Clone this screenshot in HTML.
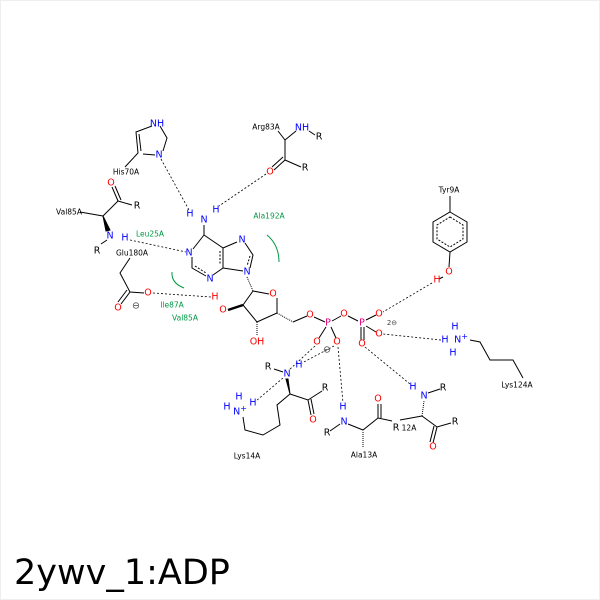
<!DOCTYPE html>
<html><head><style>
html,body{margin:0;padding:0;background:#fff;}
svg{display:block;}
text{font-family:"DejaVu Sans","Liberation Sans",sans-serif;}
.a{font-size:9.5px;text-anchor:middle;dominant-baseline:central;}
.l{font-size:7.5px;text-anchor:middle;dominant-baseline:central;fill:#000;}
.g{font-size:7.5px;text-anchor:middle;dominant-baseline:central;fill:#009944;}
.b{fill:#00f}.r{fill:#f00}.p{fill:#e0007f}.k{fill:#000}
</style></head><body>
<svg width="600" height="600" viewBox="0 0 600 600" xmlns="http://www.w3.org/2000/svg">
<rect x="0.5" y="0.5" width="599" height="599" fill="#fff" stroke="#eee"/>
<g stroke="#000" stroke-width="1" fill="none">
<!-- His70 -->
<polyline points="125,167 138,153 136,132 152,126"/>
<line x1="141" y1="151" x2="139" y2="134"/>
<polyline points="160,126 167,138 163,151"/>
<line x1="143" y1="154" x2="155" y2="155"/>
<!-- Arg83 -->
<line x1="285" y1="140" x2="296" y2="131"/>
<line x1="309" y1="131" x2="315" y2="135"/>
<line x1="285" y1="140" x2="285" y2="160"/>
<line x1="285" y1="160" x2="301" y2="167"/>
<line x1="285" y1="160" x2="274" y2="170"/>
<line x1="283" y1="157" x2="272" y2="167"/>
<line x1="285" y1="140" x2="278" y2="131"/>
<!-- Val85 top -->
<line x1="80" y1="212" x2="103" y2="216"/>
<line x1="103" y1="216" x2="118" y2="201"/>
<line x1="118" y1="201" x2="112" y2="187"/>
<line x1="121" y1="200" x2="115" y2="186"/>
<line x1="118" y1="201" x2="132" y2="205"/>
<polygon points="103,216 106,231 110,230" fill="#000"/>
<line x1="101" y1="244" x2="107" y2="240"/>
<!-- Glu180 -->
<polyline points="130,258 120,273 130,292 144,293"/>
<line x1="130" y1="292" x2="121" y2="304"/>
<line x1="127" y1="290" x2="118" y2="302"/>
<!-- adenine -->
<line x1="204" y1="225" x2="204" y2="235"/>
<polyline points="204,235 223,248 223,268 213,275"/>
<line x1="204" y1="235" x2="193" y2="249"/>
<polyline points="192,257 192,268 206,276"/>
<line x1="223" y1="248" x2="237" y2="242"/>
<polyline points="245,243 253,255 250,268"/>
<line x1="223" y1="268" x2="243" y2="271"/>
<line x1="220" y1="251" x2="220" y2="265" stroke-dasharray="2,1.5"/>
<line x1="195" y1="266" x2="206" y2="273" stroke-dasharray="2,1.5"/>
<line x1="250" y1="256" x2="247" y2="266" stroke-dasharray="2,1.5"/>
<!-- ribose -->
<line x1="247" y1="277" x2="253" y2="291" stroke-dasharray="1,1"/>
<polyline points="253,291 269,294"/>
<polyline points="277,298 277,313 257,322 243,305 253,291"/>
<line x1="243" y1="305" x2="228" y2="310" stroke-width="2.5"/>
<line x1="257" y1="322" x2="257" y2="336" stroke-dasharray="1,1"/>
<line x1="277" y1="313" x2="293" y2="322" stroke-dasharray="1,1"/>
<polyline points="293,322 307,316"/>
<line x1="314" y1="317" x2="325" y2="322"/>
<line x1="332" y1="321" x2="341" y2="316"/>
<line x1="348" y1="316" x2="358" y2="321"/>
<line x1="366" y1="320" x2="376" y2="315"/>
<line x1="366" y1="326" x2="376" y2="332"/>
<line x1="361" y1="327" x2="361" y2="340"/><line x1="364" y1="327" x2="364" y2="340"/>
<line x1="326" y1="327" x2="319" y2="338"/>
<line x1="331" y1="327" x2="336" y2="338"/>
<!-- Lys14 -->
<line x1="274" y1="369" x2="283" y2="372"/>
<polygon points="290,394 288,379 286,379" fill="#000"/>
<polyline points="290,394 308,400 322,391"/>
<line x1="308" y1="400" x2="311" y2="415"/><line x1="311" y1="399" x2="314" y2="414"/>
<polyline points="290,394 277,405 280,425 263,435 245,430 243,417"/>
<!-- Ala13 -->
<line x1="330" y1="431" x2="340" y2="424"/>
<polyline points="348,424 363,430 378,418 392,421"/>
<line x1="378" y1="418" x2="378" y2="404"/><line x1="381" y1="418" x2="381" y2="404"/>
<line x1="363" y1="432" x2="363" y2="447" stroke-dasharray="1,1"/>
<!-- right residue -->
<line x1="400" y1="420" x2="422" y2="416"/>
<line x1="422" y1="416" x2="424" y2="401" stroke-dasharray="1,1"/>
<line x1="428" y1="393" x2="440" y2="389"/>
<polyline points="422,416 437,427 451,423"/>
<line x1="437" y1="427" x2="433" y2="443"/><line x1="434" y1="426" x2="430" y2="442"/>
<!-- Lys124 -->
<polyline points="470,340 480,342 490,360 513,360 523,378"/>
<!-- Tyr9 -->
<line x1="450" y1="196" x2="450" y2="212"/>
<polygon points="450,212 467,222 467,242 450,252 433,242 433,222"/>
<polygon points="450,217 463,225 463,239 450,247 437,239 437,225" stroke-dasharray="2,1.5"/>
<line x1="450" y1="252" x2="449" y2="267"/>
<line x1="443" y1="277" x2="439" y2="279"/>
</g>
<g stroke="#009944" fill="none" stroke-width="1">
<path d="M172,272 Q171,283 184,288"/>
<path d="M267,235 Q279,245 279,262"/>
</g>
<g stroke="#000" stroke-dasharray="2,2" stroke-width="0.8" fill="none">
<line x1="161" y1="159" x2="189" y2="210"/>
<line x1="266" y1="174" x2="219" y2="206"/>
<line x1="130" y1="240" x2="186" y2="252"/>
<line x1="153" y1="293" x2="211" y2="297"/>
<line x1="432" y1="283" x2="383" y2="312"/>
<line x1="441" y1="340" x2="383" y2="334"/>
<line x1="365" y1="347" x2="410" y2="384"/>
<line x1="315" y1="346" x2="289" y2="370"/>
<line x1="334" y1="346" x2="302" y2="363"/>
<line x1="338" y1="347" x2="343" y2="403"/>
<line x1="283" y1="378" x2="256" y2="401"/>
</g>
<text class="a b" x="157" y="124">NH</text>
<text class="a b" x="159" y="155">N</text>
<text class="a b" x="204" y="220">N</text>
<text class="a b" x="190" y="214">H</text>
<text class="a b" x="216" y="210">H</text>
<text class="a b" x="189" y="253">N</text>
<text class="a b" x="210" y="279">N</text>
<text class="a b" x="242" y="240">N</text>
<text class="a b" x="247" y="272">N</text>
<text class="a b" x="302" y="128">NH</text>
<text class="a k" x="319" y="137">R</text>
<text class="a r" x="270" y="172">O</text>
<text class="a k" x="305" y="168">R</text>
<text class="a r" x="111" y="183">O</text>
<text class="a k" x="137" y="206">R</text>
<text class="a b" x="110" y="236">N</text>
<text class="a b" x="125" y="238">H</text>
<text class="a k" x="97" y="251">R</text>
<text class="a r" x="148" y="293">O</text>
<text class="a r" x="118" y="308">O</text>
<text class="a" x="136" y="306" style="fill:#444">⊖</text>
<text class="a r" x="273" y="294">O</text>
<text class="a r" x="215" y="297">H</text>
<text class="a r" x="223" y="310">O</text>
<text class="a r" x="257" y="342">OH</text>
<text class="a r" x="310" y="315">O</text>
<text class="a p" x="328" y="323">P</text>
<text class="a r" x="344" y="314">O</text>
<text class="a p" x="362" y="323">P</text>
<text class="a r" x="379" y="314">O</text>
<text class="a r" x="379" y="334">O</text>
<text class="a r" x="362" y="344">O</text>
<text class="a r" x="317" y="342">O</text>
<text class="a r" x="337" y="342">O</text>
<text class="a" x="327" y="350" style="fill:#444">⊖</text>
<text class="a" x="392" y="323" style="font-size:7px;fill:#444">2⊖</text>
<text class="a b" x="287" y="374">N</text>
<text class="a k" x="268" y="367">R</text>
<text class="a b" x="299" y="365">H</text>
<text class="a r" x="313" y="420">O</text>
<text class="a k" x="325" y="388">R</text>
<text class="a b" x="240" y="412">N<tspan dy="-4" style="font-size:8px">+</tspan></text>
<text class="a b" x="227" y="407">H</text>
<text class="a b" x="239" y="397">H</text>
<text class="a b" x="253" y="403">H</text>
<text class="a b" x="343" y="407">H</text>
<text class="a b" x="344" y="422">N</text>
<text class="a k" x="327" y="433">R</text>
<text class="a r" x="378" y="399">O</text>
<text class="a k" x="396" y="428">R</text>
<text class="a b" x="413" y="387">H</text>
<text class="a b" x="424" y="396">N</text>
<text class="a k" x="443" y="388">R</text>
<text class="a r" x="433" y="447">O</text>
<text class="a k" x="455" y="422">R</text>
<text class="a b" x="455" y="327">H</text>
<text class="a b" x="461" y="340">N<tspan dy="-4" style="font-size:8px">+</tspan></text>
<text class="a b" x="445" y="340">H</text>
<text class="a b" x="453" y="353">H</text>
<text class="a r" x="449" y="272">O</text>
<text class="a r" x="437" y="280">H</text>
<text class="l" x="126" y="172">His70A</text>
<text class="l" x="266" y="127">Arg83A</text>
<text class="l" x="69" y="212">Val85A</text>
<text class="g" x="150" y="234">Leu25A</text>
<text class="l" x="132" y="253">Glu180A</text>
<text class="g" x="269" y="216">Ala192A</text>
<text class="g" x="172" y="305">Ile87A</text>
<text class="g" x="185" y="318">Val85A</text>
<text class="l" x="449" y="190">Tyr9A</text>
<text class="l" x="517" y="385">Lys124A</text>
<text class="l" x="247" y="456">Lys14A</text>
<text class="l" x="364" y="455">Ala13A</text>
<text class="l" x="409" y="428">12A</text>
<text x="14" y="584" style="font-size:35px;fill:#000">2ywv_1:ADP</text>
</svg>
</body></html>
